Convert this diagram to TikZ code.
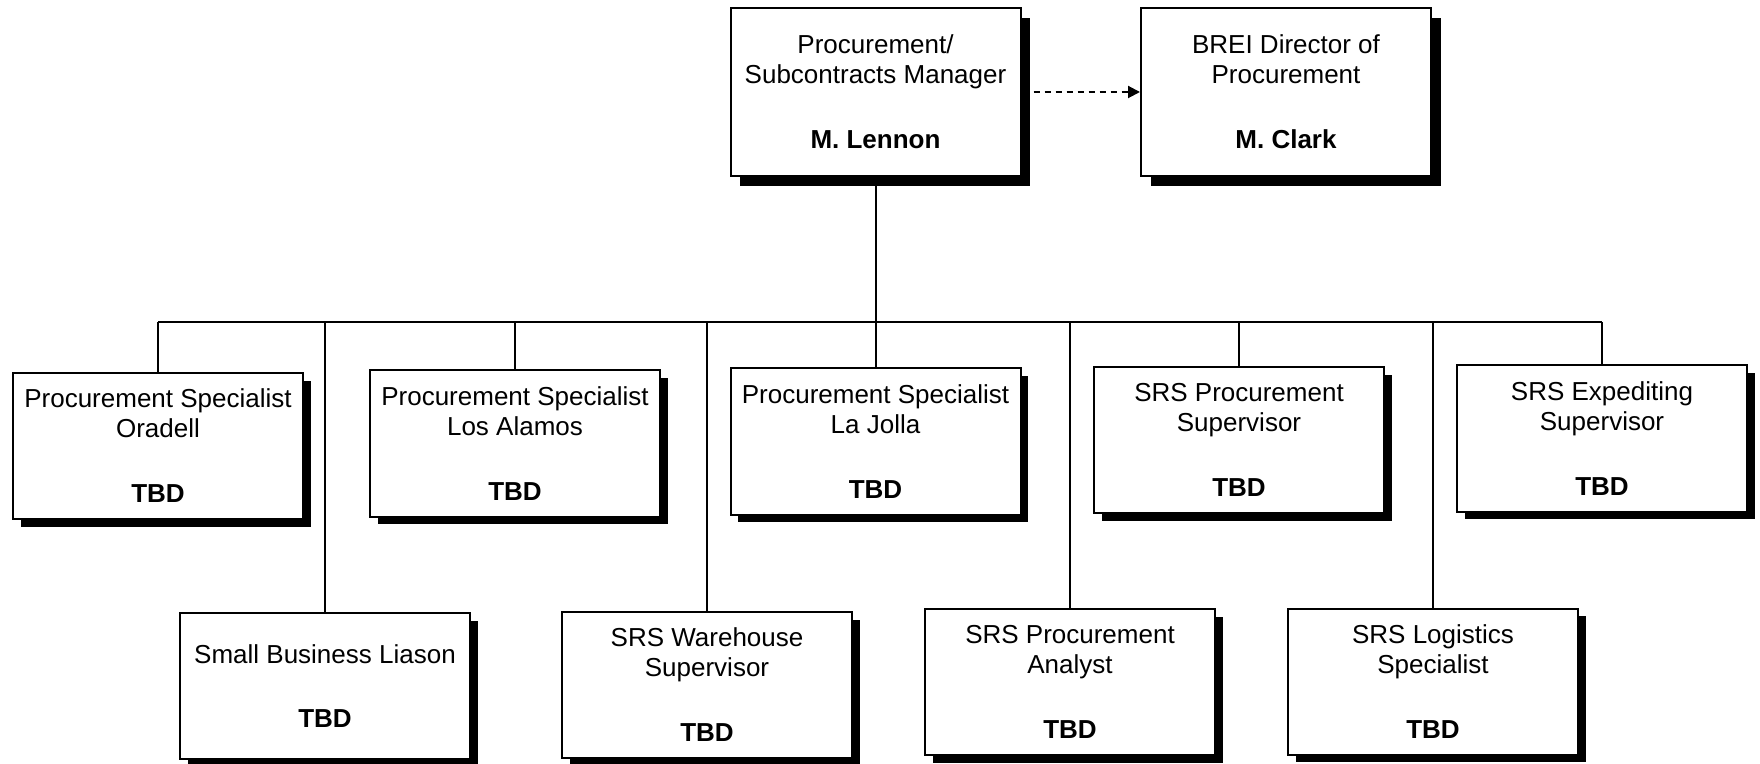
\documentclass[tikz,border=0pt]{standalone}
\usepackage{fontspec}
\setmainfont{Liberation Sans}
\usetikzlibrary{arrows.meta,shadows}
\begin{document}
\begin{tikzpicture}[x=0.5pt,y=-0.5pt,
  basebox/.style={draw=black, line width=1pt, fill=white, align=center, inner sep=0pt,
     font=\fontsize{13}{15}\selectfont},
  box/.style={basebox, minimum width=145pt, minimum height=73pt,
     drop shadow={shadow xshift=3.8pt, shadow yshift=-3.8pt, fill=black, opacity=1}},
  topbox/.style={basebox, minimum width=145pt, minimum height=84pt,
     drop shadow={shadow xshift=4.8pt, shadow yshift=-4.8pt, fill=black, opacity=1}},
  link/.style={line width=1pt},
]
\useasboundingbox (0,0) rectangle (1760,764);
\fill[white] (0,0) rectangle (1760,764);

% top level
\node[topbox] (lennon) at (875.5,92) {Procurement/\\Subcontracts Manager\\[17.5pt]\textbf{M. Lennon}};
\node[topbox] (brei) at (1286,92) {BREI Director of\\Procurement\\[17.5pt]\textbf{M. Clark}};

% first row
\node[box] (oradell) at (158,446) {Procurement Specialist\\Oradell\\[17.5pt]\textbf{TBD}};
\node[box] (losalamos) at (515,443.5) {Procurement Specialist\\Los Alamos\\[17.5pt]\textbf{TBD}};
\node[box] (lajolla) at (875.5,441.5) {Procurement Specialist\\La Jolla\\[17.5pt]\textbf{TBD}};
\node[box] (srsproc) at (1239,440) {SRS Procurement\\Supervisor\\[17.5pt]\textbf{TBD}};
\node[box] (expedit) at (1602,438.5) {SRS Expediting\\Supervisor\\[17.5pt]\textbf{TBD}};

% second row
\node[box] (smallbiz) at (325,686) {Small Business Liason\\[17pt]\textbf{TBD}};
\node[box] (warehouse) at (707,685) {SRS Warehouse\\Supervisor\\[17.5pt]\textbf{TBD}};
\node[box] (analyst) at (1070,682) {SRS Procurement\\Analyst\\[17.5pt]\textbf{TBD}};
\node[box] (logistics) at (1433,681.5) {SRS Logistics\\Specialist\\[17.5pt]\textbf{TBD}};

% reporting lines
\coordinate (bus) at (0,322);
\draw[link] (lennon.south) -- (lennon.south |- bus);
\draw[link] (oradell.north |- bus) -- (expedit.north |- bus);
\foreach \n in {oradell,losalamos,lajolla,srsproc,expedit,smallbiz,warehouse,analyst,logistics}
  \draw[link] (\n.north |- bus) -- (\n.north);

% dotted-line relationship
\draw[link, dash pattern=on 3pt off 2.5pt, -{Triangle[length=6pt,width=6pt]}, shorten <=6pt]
  (lennon.east) -- (brei.west);
\end{tikzpicture}
\end{document}
